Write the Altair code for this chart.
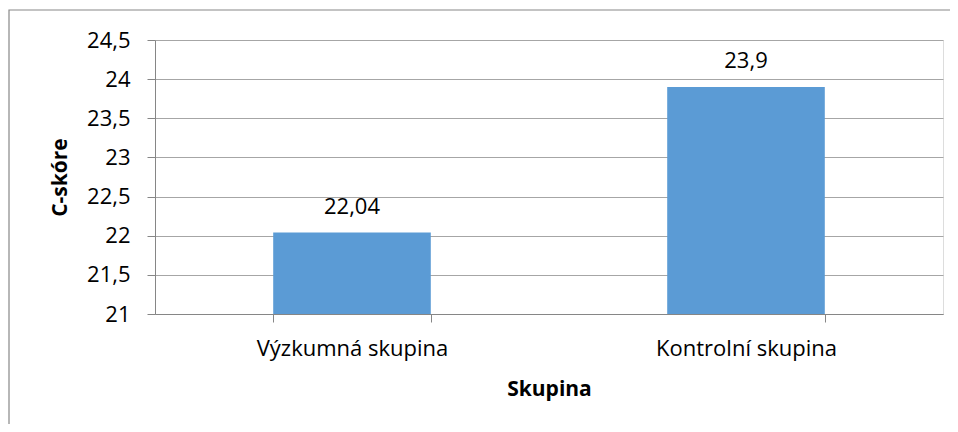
import altair as alt
import pandas as pd

groups = ["Výzkumná skupina", "Kontrolní skupina"]
scores = [22.04, 23.9]
score_labels = ["22,04", "23,9"]
y_ticks = [21, 21.5, 22, 22.5, 23, 23.5, 24, 24.5]

df = pd.DataFrame({"Skupina": groups, "C": scores, "lbl": score_labels})

FONT = "Open Sans"
FS = 22
W, H = 788, 274

x_enc = alt.X("Skupina:N", sort=groups,
              scale=alt.Scale(paddingInner=0.6, paddingOuter=0.3),
              axis=alt.Axis(title="Skupina", labelAngle=0, labelFontSize=FS,
                            labelPadding=16, labelLimit=400,
                            titleFontSize=FS - 1, titleFontWeight="bold",
                            titlePadding=19, tickSize=8, tickBand="extent",
                            domainColor="#868686", tickColor="#868686",
                            labelColor="black", titleColor="black",
                            labelFont=FONT, titleFont=FONT, grid=False,
                            labelOverlap=False))

y_enc = alt.Y("C:Q", scale=alt.Scale(domain=[21, 24.5], zero=False, nice=False),
              axis=alt.Axis(title="C-skóre", values=y_ticks,
                            labelExpr="replace(toString(datum.value), '.', ',')",
                            labelFontSize=FS, labelPadding=17, tickSize=8,
                            labelOverlap=False,
                            titleFontSize=FS - 1, titleFontWeight="bold", titlePadding=16,
                            domainColor="#868686", tickColor="#868686",
                            gridColor="#a6a6a6", labelColor="black", titleColor="black",
                            labelFont=FONT, titleFont=FONT))

bars = alt.Chart(df).mark_bar(color="#5b9bd5").encode(
    x=x_enc, y=y_enc, y2=alt.datum(21),
)

labels = alt.Chart(df).mark_text(fontSize=FS, font=FONT, color="black",
                                 baseline="middle", dy=-26).encode(
    x=x_enc, y=y_enc, text="lbl:N",
)

frame = alt.Chart(pd.DataFrame({"f": [0]})).mark_rect(
    fill=None, stroke="#888888", strokeWidth=1.2).encode(
    x=alt.value(-146), x2=alt.value(900), y=alt.value(-30), y2=alt.value(500))

chart = alt.layer(frame, bars, labels).properties(
    width=W, height=H,
    autosize=alt.AutoSizeParams(type="none"),
    padding={"left": 147, "top": 32, "right": 7, "bottom": 110},
).configure_view(stroke=None).configure(background="white")

chart.save("out.html", embed_options={"renderer": "svg", "actions": False})
